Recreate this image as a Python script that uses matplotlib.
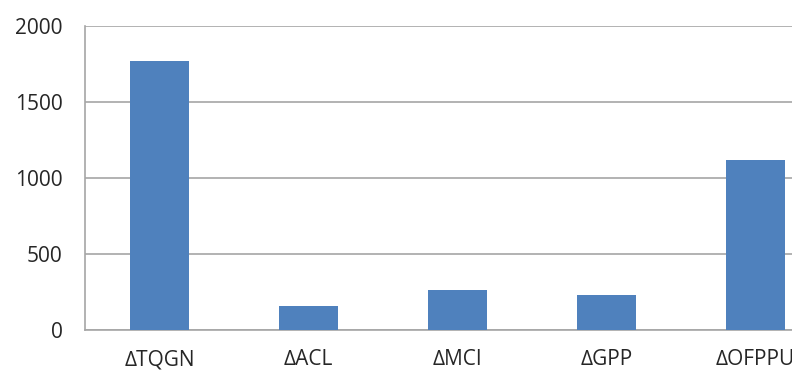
import matplotlib
matplotlib.use("Agg")
import matplotlib.pyplot as plt
import numpy as np

categories = ["∆TQGN", "∆ACL", "∆MCI", "∆GPP", "∆OFPPU"]
values = [1770, 160, 260, 230, 1120]
yticks = [0, 500, 1000, 1500, 2000]

plt.rcParams["font.family"] = ["Open Sans", "DejaVu Sans"]

fig = plt.figure(figsize=(7.92, 3.72), dpi=100)
# the plot area runs past the right edge of the picture, as in the reference
ax = fig.add_axes([85 / 792, 42 / 372, 745 / 792, 304 / 372])

x = np.arange(len(categories))
ax.bar(x, values, width=0.4, color="#4F81BD", zorder=3)

ax.set_xlim(-0.5, len(categories) - 0.5)
ax.set_ylim(0, 2000)
ax.set_yticks(yticks)
ax.set_xticks(x)
ax.set_xticklabels(categories)
ax.yaxis.grid(True, color="#A6A6A6", lw=1.2, zorder=0)

for side in ["top", "right"]:
    ax.spines[side].set_visible(False)
for side in ["left", "bottom"]:
    ax.spines[side].set_color("#A6A6A6")
    ax.spines[side].set_linewidth(1.2)

ax.tick_params(axis="both", length=0, labelsize=15, colors="#262626")
ax.tick_params(axis="y", pad=16)
ax.tick_params(axis="x", pad=14)

fig.savefig("out.png", dpi=100)
